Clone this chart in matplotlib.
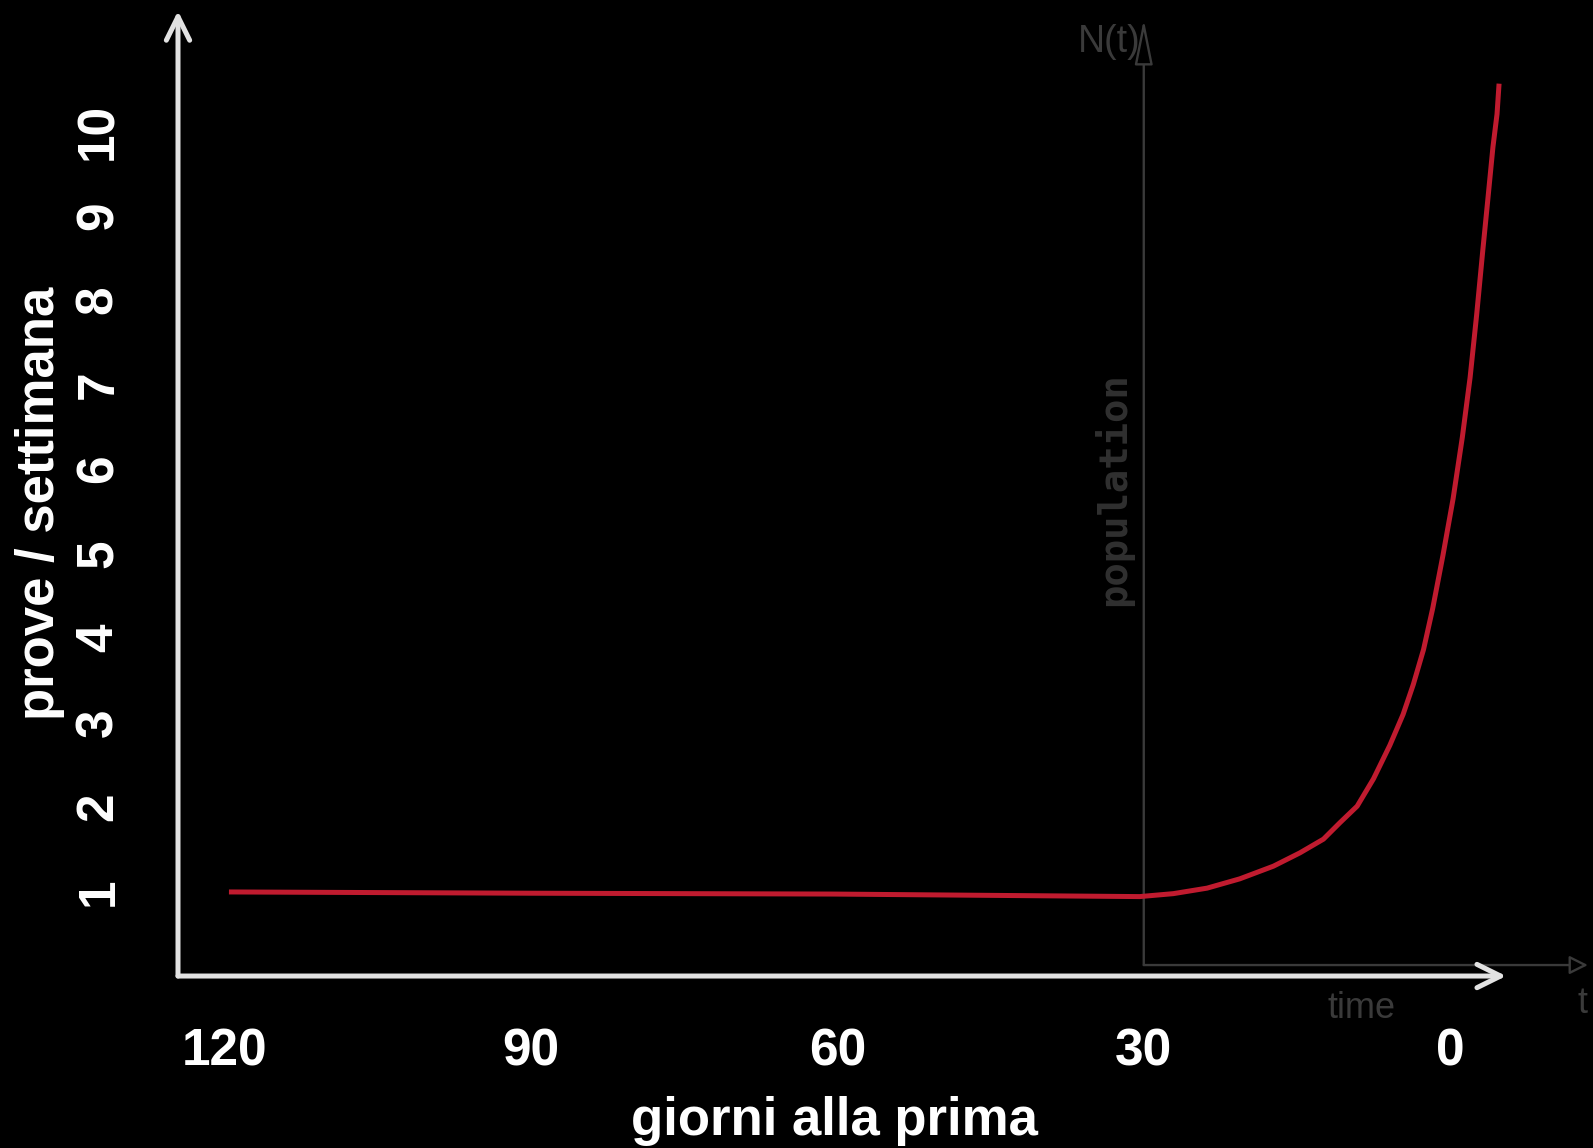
import matplotlib
matplotlib.use("Agg")
import matplotlib.pyplot as plt

# rehearsals per week against days left to the premiere
days = [119.6, 90, 60.4, 30.4, 27.1, 23.8, 20.6, 17.3, 14.7, 12.4, 10.8, 9.1, 7.5, 5.9, 4.6,
        3.6, 2.6, 1.7, 0.7, -0.3, -1.2, -1.96, -2.6, -3.2, -3.7, -4.2, -4.6, -4.8]
rehearsals = [0.995, 0.98, 0.97, 0.94, 0.975, 1.04, 1.15, 1.30, 1.458, 1.62, 1.813, 2.01, 2.334, 2.73, 3.096,
              3.45, 3.863, 4.35, 4.976, 5.65, 6.374, 7.08, 7.82, 8.58, 9.19, 9.81, 10.2, 10.56]

x_ticks = [120, 90, 60, 30, 0]
x_tick_labels = ["120", "90", "60", "30", "0"]
y_ticks = [1, 2, 3, 4, 5, 6, 7, 8, 9, 10]
y_tick_labels = [str(v) for v in y_ticks]

# the faint pasted-in N(t) sketch starts at 30 days
inset_start = 30

plt.rcParams["font.family"] = ["Liberation Sans", "DejaVu Sans"]
plt.rcParams["font.weight"] = "bold"

fig = plt.figure(figsize=(15.93, 11.48), dpi=100, facecolor="black")
ax = fig.add_axes([0.11174, 0.1498, 0.88826, 0.8502])
ax.set_facecolor("black")
ax.set_xlim(124.59, -14.0)
ax.set_ylim(0, 11.55)
for s in ax.spines.values():
    s.set_visible(False)

# grey inset axes (population / time)
grey = "#3a3a3a"
ax.annotate("", xy=(inset_start, 11.32), xytext=(inset_start, 0.13),
            arrowprops=dict(arrowstyle="-|>,head_length=2.0,head_width=0.4", mutation_scale=14,
                            fc="black", ec=grey, lw=1.7, shrinkA=0, shrinkB=0),
            annotation_clip=False)
ax.annotate("", xy=(-13.5, 0.13), xytext=(inset_start, 0.13),
            arrowprops=dict(arrowstyle="-|>,head_length=0.8,head_width=0.4", mutation_scale=14,
                            fc="black", ec=grey, lw=1.7, shrinkA=0, shrinkB=0),
            annotation_clip=False)
ax.text(33.4, 11.05, "N(t)", color=grey, fontsize=27, fontweight="normal",
        ha="center", va="center")
ax.text(8.7, -0.39, "time", color=grey, fontsize=26, fontweight="normal",
        ha="center", va="center", clip_on=False)
ax.text(-13.0, -0.32, "t", color=grey, fontsize=26, fontweight="normal",
        ha="center", va="center", clip_on=False)
ax.text(33.0, 5.76, "population", color="#303030", fontsize=28, fontweight="bold",
        family=["DejaVu Sans Mono"], rotation=90, ha="center", va="center")

# the curve
ax.plot(days, rehearsals, color="#c01b2f", lw=3.6, solid_capstyle="butt",
        solid_joinstyle="round", zorder=5)

# white axes with open arrow heads
axis_col = "#e2e2e2"
ax.annotate("", xy=(-5.5, 0), xytext=(124.59, 0),
            arrowprops=dict(arrowstyle="->,head_length=0.85,head_width=0.42", mutation_scale=20,
                            color=axis_col, lw=3.6, shrinkA=0, shrinkB=0),
            annotation_clip=False)
ax.annotate("", xy=(124.59, 11.42), xytext=(124.59, 0),
            arrowprops=dict(arrowstyle="->,head_length=0.85,head_width=0.42", mutation_scale=20,
                            color=axis_col, lw=3.6, shrinkA=0, shrinkB=0),
            annotation_clip=False)

ax.set_xticks(x_ticks)
ax.set_xticklabels(x_tick_labels)
ax.set_yticks(y_ticks)
ax.set_yticklabels(y_tick_labels)
ax.tick_params(axis="x", length=0, pad=55, labelsize=37, labelcolor="white")
ax.tick_params(axis="y", length=0, pad=57, labelsize=37, labelcolor="white")
for lbl in ax.get_xticklabels():
    lbl.set_va("center")
for lbl in ax.get_yticklabels():
    lbl.set_rotation(90)
    lbl.set_ha("center")
    lbl.set_va("center")

ax.set_xlabel("giorni alla prima", color="white", fontsize=38, fontweight="bold", va="center")
ax.xaxis.set_label_coords(0.4636, -0.1487)
ax.set_ylabel("prove / settimana", color="white", fontsize=38, fontweight="bold", va="center")
ax.yaxis.set_label_coords(-0.0975, 0.484)

fig.savefig("out.png", dpi=100, facecolor="black")
